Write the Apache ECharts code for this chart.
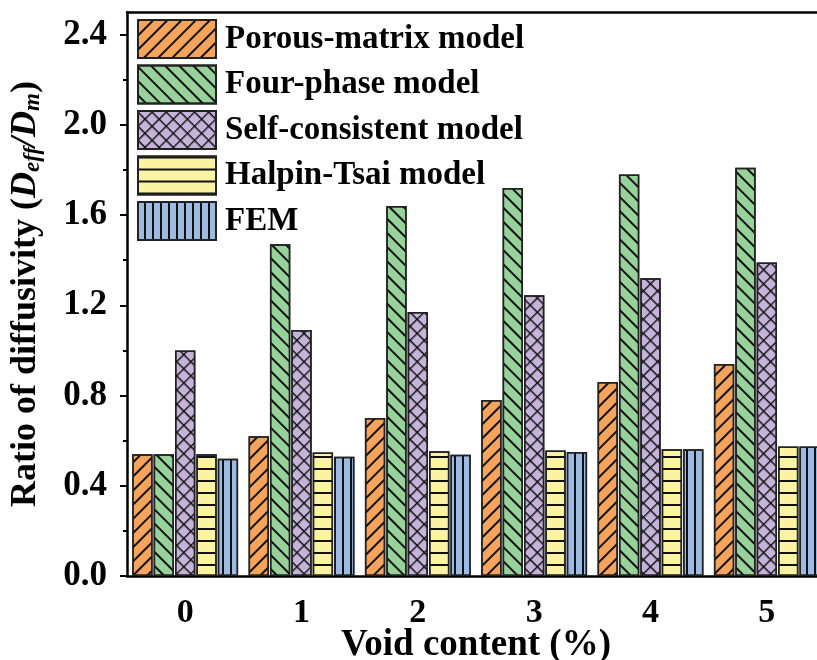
<!DOCTYPE html>
<html>
<head>
<meta charset="utf-8">
<script src="https://cdn.jsdelivr.net/npm/echarts@6/dist/echarts.min.js"></script>
<style>
  html, body { margin: 0; padding: 0; background: #fff; }
  #chart { width: 817px; height: 660px; }
</style>
</head>
<body>
<div id="chart"></div>
<script>
const categories = ['0', '1', '2', '3', '4', '5'];
const seriesNames = ['Porous-matrix model', 'Four-phase model', 'Self-consistent model', 'Halpin-Tsai model', 'FEM'];
const porousMatrix = [0.54, 0.62, 0.70, 0.78, 0.86, 0.94];
const fourPhase = [0.54, 1.47, 1.64, 1.72, 1.78, 1.81];
const selfConsistent = [1.00, 1.09, 1.17, 1.245, 1.32, 1.39];
const halpinTsai = [0.54, 0.547, 0.553, 0.556, 0.562, 0.574];
const fem = [0.52, 0.529, 0.538, 0.55, 0.562, 0.574];
const yMajorTicks = [0, 0.4, 0.8, 1.2, 1.6, 2.0, 2.4];
const yMinorTicks = [0.2, 0.6, 1.0, 1.4, 1.8, 2.2];

const colors = ['#F6A45C', '#98D29B', '#C5B4DA', '#FAF4A2', '#9DBAE3'];
const FONT = 'Liberation Serif';
const ink = '#111';

// hatch patterns: "/", "\", crosshatch, horizontal, vertical
const decals = [
  { symbol: 'rect', symbolSize: 1, dashArrayX: [1, 0], dashArrayY: [1.6, 8], rotation: -Math.PI / 4, color: ink },
  { symbol: 'rect', symbolSize: 1, dashArrayX: [1, 0], dashArrayY: [1.6, 8], rotation: Math.PI / 4, color: ink },
  { symbol: 'path://M0,0H10V1.4H0Z M0,0H1.4V10H0Z', symbolSize: 1, symbolKeepAspect: false, dashArrayX: [10, 0], dashArrayY: [10, 0], rotation: Math.PI / 4, color: ink },
  { symbol: 'rect', symbolSize: 1, dashArrayX: [1, 0], dashArrayY: [1.4, 10], rotation: 0, color: ink },
  { symbol: 'rect', symbolSize: 1, dashArrayX: [1, 0], dashArrayY: [1.4, 6], rotation: Math.PI / 2, color: ink }
];

const values = [porousMatrix, fourPhase, selfConsistent, halpinTsai, fem];

const chart = echarts.init(document.getElementById('chart'));

const series = seriesNames.map((name, i) => ({
  name,
  type: 'bar',
  data: values[i],
  barGap: '5%',
  barCategoryGap: '9%',
  itemStyle: {
    color: colors[i],
    borderColor: '#222',
    borderWidth: 1.5,
    decal: decals[i]
  }
}));

chart.setOption({
  animation: false,
  aria: { enabled: false },
  textStyle: { fontFamily: FONT, fontWeight: 'bold', color: '#000' },
  grid: { left: 127, top: 12, height: 564, width: 698, outerBoundsMode: 'none', containLabel: false },
  legend: {
    orient: 'vertical',
    left: 137,
    top: 19,
    padding: 0,
    icon: 'rect',
    itemWidth: 78,
    itemHeight: 38,
    itemGap: 5.5,
    data: seriesNames,
    textStyle: { fontFamily: FONT, fontWeight: 'bold', fontSize: 33, color: '#000', padding: [0, 0, 0, 4] }
  },
  xAxis: [
    {
      type: 'category',
      data: categories,
      position: 'bottom',
      name: 'Void content (%)',
      nameLocation: 'middle',
      nameGap: 51,
      nameMoveOverlap: false,
      nameTextStyle: { fontFamily: FONT, fontWeight: 'bold', fontSize: 37, color: '#000' },
      axisLine: { lineStyle: { color: '#000', width: 2.5 } },
      axisTick: { alignWithLabel: true, length: 8, lineStyle: { width: 2, color: '#000' } },
      axisLabel: { margin: 20, fontFamily: FONT, fontWeight: 'bold', fontSize: 34, color: '#000' }
    },
    {
      type: 'category',
      data: categories,
      position: 'bottom',
      axisLine: { show: false },
      axisTick: { length: 4, lineStyle: { width: 2, color: '#000' } },
      axisLabel: { show: false }
    },
    {
      type: 'category',
      data: categories,
      position: 'top',
      axisLine: { lineStyle: { color: '#000', width: 2.5 } },
      axisTick: { show: false },
      axisLabel: { show: false }
    }
  ],
  yAxis: [
    {
      type: 'value',
      min: 0,
      max: 2.5,
      position: 'left',
      name: '{a|Ratio of diffusivity (}{i|D}{s|eff}{i|/D}{s|m}{a|)}',
      nameLocation: 'middle',
      nameGap: 82,
      nameMoveOverlap: false,
      nameTextStyle: {
        rich: {
          a: { fontFamily: FONT, fontWeight: 'bold', fontSize: 36, color: '#000' },
          i: { fontFamily: FONT, fontWeight: 'bold', fontStyle: 'italic', fontSize: 36, color: '#000' },
          s: { fontFamily: FONT, fontWeight: 'bold', fontStyle: 'italic', fontSize: 23, color: '#000', padding: [15, 0, 0, 0] }
        }
      },
      splitLine: { show: false },
      axisLine: { show: true, lineStyle: { color: '#000', width: 2.5 } },
      axisTick: { show: true, length: 7, customValues: yMajorTicks, lineStyle: { width: 2, color: '#000' } },
      axisLabel: {
        margin: 20,
        customValues: yMajorTicks,
        formatter: v => v.toFixed(1),
        fontFamily: FONT, fontWeight: 'bold', fontSize: 35, color: '#000'
      }
    },
    {
      type: 'value',
      min: 0,
      max: 2.5,
      position: 'left',
      splitLine: { show: false },
      axisLine: { show: false },
      axisTick: { show: true, length: 4, customValues: yMinorTicks, lineStyle: { width: 2, color: '#000' } },
      axisLabel: { show: false }
    }
  ],
  series
});
</script>
</body>
</html>
